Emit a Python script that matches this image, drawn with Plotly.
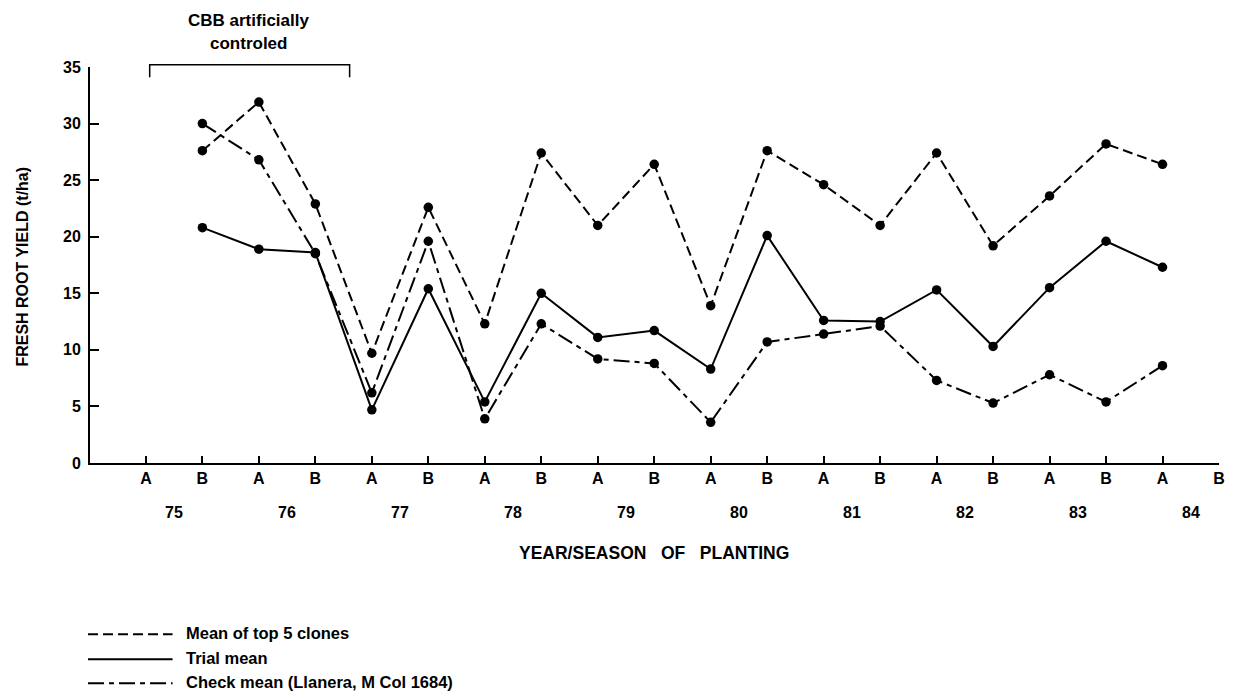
import plotly.graph_objects as go

# ---- data ----
seasons = ["A", "B"] * 10
years = ["75", "76", "77", "78", "79", "80", "81", "82", "83", "84"]
x_idx = list(range(1, 19))  # B75 .. A84
top5 = [27.6, 31.9, 22.9, 9.7, 22.6, 12.3, 27.4, 21.0, 26.4, 13.9,
        27.6, 24.6, 21.0, 27.4, 19.2, 23.6, 28.2, 26.4]
trial = [20.8, 18.9, 18.6, 4.7, 15.4, 5.4, 15.0, 11.1, 11.7, 8.3,
         20.1, 12.6, 12.5, 15.3, 10.3, 15.5, 19.6, 17.3]
check = [30.0, 26.8, 18.5, 6.2, 19.6, 3.9, 12.3, 9.2, 8.8, 3.6,
         10.7, 11.4, 12.1, 7.3, 5.3, 7.8, 5.4, 8.6]
y_ticks = [0, 5, 10, 15, 20, 25, 30, 35]
series_names = ["Mean of top 5 clones", "Trial mean", "Check mean (Llanera, M Col 1684)"]

# ---- layout geometry (page pixels; page body has an 8px margin) ----
OFF = 8
W, H = 1233 - OFF, 700 - OFF
PL, PR, PT, PB = 90, 1225, 66.8, 462.7          # plot area in page pixels
L, R, T, B = PL - OFF, W - (PR - OFF), PT - OFF, H - (PB - OFF)
PW, PH = W - L - R, H - T - B

def px(xp):
    return (xp - OFF - L) / PW

def py(yp):
    return (H - B - (yp - OFF)) / PH

FONT = "Liberation Sans"

def f(size):
    return dict(family=FONT, size=size, weight="bold", color="black")

dashes = ["10px,5px", "solid", "16px,5px,5px,5px"]

fig = go.Figure()
for ys, d in zip([top5, trial, check], dashes):
    fig.add_trace(go.Scatter(
        x=x_idx, y=ys, mode="lines+markers",
        line=dict(color="black", width=2, dash=d),
        marker=dict(color="black", size=9.5),
        showlegend=False, hoverinfo="skip"))

shapes = []
annotations = []

def note(text, x, y, size, xref="paper", xanchor="center", **kw):
    annotations.append(dict(text=text, x=x, y=y, xref=xref, yref="paper",
                            xanchor=xanchor, yanchor="middle", showarrow=False,
                            font=f(size), **kw))

# bracket "CBB artificially controled"
bx0, bx1, by0, by1 = 150, 351, 64.5, 77
shapes.append(dict(type="path", xref="paper", yref="paper",
                   path=f"M {px(bx0)},{py(by1)} L {px(bx0)},{py(by0)} L {px(bx1)},{py(by0)} L {px(bx1)},{py(by1)}",
                   line=dict(color="black", width=1.5)))
note("CBB artificially", px(249), py(20.5), 17)
note("controled", px(249), py(43.5), 17)

# year labels
for k, yr in enumerate(years):
    note(yr, 2 * k + 0.5, py(512.5), 16, xref="x")

# axis titles
note("YEAR/SEASON   OF   PLANTING", px(657), py(552.5), 17.5)
note("FRESH ROOT YIELD (t/ha)", px(22), py(266), 16, textangle=-90)

# legend
for name, d, yp in zip(series_names, dashes, [634, 659, 683]):
    shapes.append(dict(type="line", xref="paper", yref="paper",
                       x0=px(88), x1=px(173), y0=py(yp), y1=py(yp),
                       line=dict(color="black", width=2, dash=d)))
    note(name, px(185), py(yp - 1), 16.5, xanchor="left")

fig.update_layout(
    width=W, height=H, margin=dict(l=L, r=R, t=T, b=B, pad=0),
    paper_bgcolor="white", plot_bgcolor="white",
    font=f(16),
    shapes=shapes, annotations=annotations,
    xaxis=dict(range=[-0.99, 19.0], tickvals=list(range(20)), ticktext=seasons,
               showgrid=False, zeroline=False, showline=True, linecolor="black", linewidth=2,
               ticks="inside", ticklen=7, tickwidth=1.5, tickcolor="black",
               ticklabelstandoff=0, tickfont=f(16)),
    yaxis=dict(range=[0, 35], tickvals=y_ticks, showgrid=False, zeroline=False,
               showline=True, linecolor="black", linewidth=2,
               ticks="inside", ticklen=9, tickwidth=1.5, tickcolor="black",
               ticklabelstandoff=4, tickfont=f(16)),
)

fig.write_html("out.html")
